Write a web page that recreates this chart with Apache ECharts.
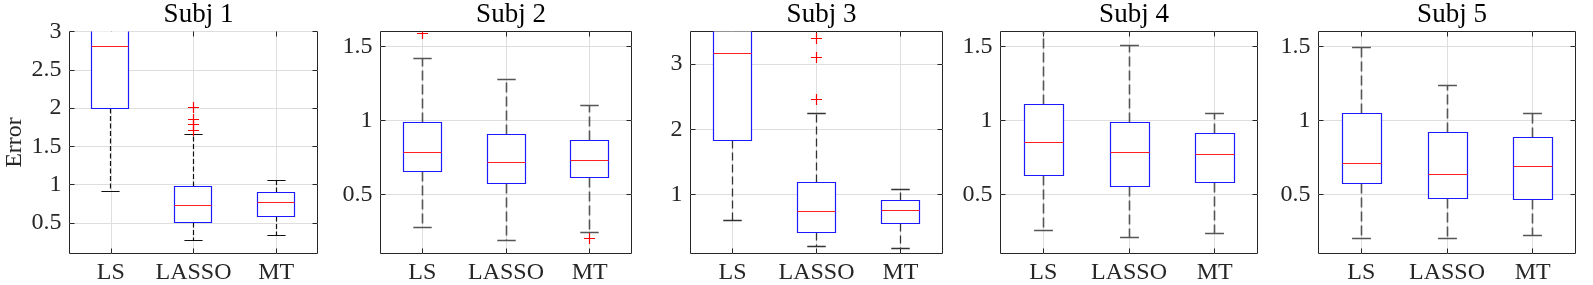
<!DOCTYPE html>
<html>
<head>
<meta charset="utf-8">
<script src="https://cdn.jsdelivr.net/npm/echarts@6/dist/echarts.min.js"></script>
<style>
html,body{margin:0;padding:0;background:#fff;}
#chart{width:1593px;height:285px;}
</style>
</head>
<body>
<div id="chart"></div>
<script>
// ---------- data ----------
const categories = ['LS', 'LASSO', 'MT'];
const subjects = ['Subj 1', 'Subj 2', 'Subj 3', 'Subj 4', 'Subj 5'];
// each row: [lower whisker, Q1, median, Q3, upper whisker]
const subj1Stats = [[0.91, 2.0, 2.81, 3.6, 5.0], [0.265, 0.50, 0.727, 0.98, 1.657], [0.33, 0.588, 0.766, 0.897, 1.05]];
const subj2Stats = [[0.274, 0.656, 0.782, 0.982, 1.418], [0.185, 0.576, 0.715, 0.901, 1.277], [0.242, 0.614, 0.726, 0.866, 1.10]];
const subj3Stats = [[0.612, 1.832, 3.168, 3.9, 5.0], [0.2, 0.414, 0.74, 1.19, 2.25], [0.17, 0.557, 0.76, 0.908, 1.085]];
const subj4Stats = [[0.258, 0.625, 0.852, 1.11, 1.75], [0.205, 0.554, 0.78, 0.985, 1.505], [0.238, 0.583, 0.772, 0.91, 1.047]];
const subj5Stats = [[0.198, 0.574, 0.709, 1.045, 1.49], [0.2, 0.471, 0.634, 0.917, 1.235], [0.223, 0.464, 0.685, 0.884, 1.049]];
// outliers: [category index, value]
const subj1Outliers = [[1, 2.01], [1, 1.852], [1, 1.783], [1, 1.709]];
const subj2Outliers = [[0, 1.587], [2, 0.202]];
const subj3Outliers = [[1, 3.39], [1, 3.10], [1, 2.46]];
const subj4Outliers = [];
const subj5Outliers = [];
const yMin = [0.1, 0.1, 0.1, 0.1, 0.1];
const yMax = [3, 1.6, 3.5, 1.6, 1.6];
const yTicks = [[0.5, 1, 1.5, 2, 2.5, 3], [0.5, 1, 1.5], [1, 2, 3], [0.5, 1, 1.5], [0.5, 1, 1.5]];
const yLabel = 'Error';

// ---------- layout / style ----------
const allStats = [subj1Stats, subj2Stats, subj3Stats, subj4Stats, subj5Stats];
const allOutliers = [subj1Outliers, subj2Outliers, subj3Outliers, subj4Outliers, subj5Outliers];
const gridLeft = [69.5, 380.5, 690.5, 1000.5, 1318.5];
const gridWidth = [248, 251, 252, 257, 257];
const gridTop = 31.5, gridHeight = 222;
const FONT = 'Liberation Serif';
const TXT = '#262626';
const BOX_W = 0.45, CAP_W = 0.22;
const whiskerColor = ['#111', '#555', '#333', '#555', '#555'];
const whiskerWidth = [1.2, 1.6, 1.3, 1.6, 1.6];
const whiskerDash = [[5, 2.5], [10, 4], [8, 4], [10, 4], [10, 4]];
const xTickVals = categories.map((c, i) => i + 1);

function crisp(v) { return Math.round(v - 0.5) + 0.5; }

function makeBoxRenderer(k) {
  return function (params, api) {
    const x = api.value(0);
    const cx = crisp(api.coord([x, 0])[0]);
    const yv = [1, 2, 3, 4, 5].map(i => crisp(api.coord([x, api.value(i)])[1]));
    const halfW = api.size([BOX_W, 0])[0] / 2;
    const capHalf = api.size([CAP_W, 0])[0] / 2;
    const wStyle = { stroke: whiskerColor[k], lineWidth: whiskerWidth[k], lineDash: whiskerDash[k] };
    const cStyle = { stroke: whiskerColor[k], lineWidth: whiskerWidth[k] };
    const bx = crisp(cx - halfW), bw = Math.round(2 * halfW);
    return {
      type: 'group',
      children: [
        { type: 'line', shape: { x1: cx, y1: yv[1], x2: cx, y2: yv[0] }, style: wStyle },
        { type: 'line', shape: { x1: cx, y1: yv[3], x2: cx, y2: yv[4] }, style: wStyle },
        { type: 'line', shape: { x1: cx - capHalf, y1: yv[0], x2: cx + capHalf, y2: yv[0] }, style: cStyle },
        { type: 'line', shape: { x1: cx - capHalf, y1: yv[4], x2: cx + capHalf, y2: yv[4] }, style: cStyle },
        { type: 'rect', shape: { x: bx, y: yv[3], width: bw, height: yv[1] - yv[3] },
          style: { fill: '#fff', stroke: '#1a1aff', lineWidth: 1.2 } },
        { type: 'line', shape: { x1: bx, y1: yv[2], x2: bx + bw, y2: yv[2] },
          style: { stroke: '#ff2020', lineWidth: 1.2 } }
      ]
    };
  };
}

function renderOutlier(params, api) {
  const p = api.coord([api.value(0), api.value(1)]);
  const cx = crisp(p[0]), cy = crisp(p[1]);
  const r = 5.5;
  const st = { stroke: '#ff0000', lineWidth: 1.2 };
  return {
    type: 'group',
    children: [
      { type: 'line', shape: { x1: cx - r, y1: cy, x2: cx + r, y2: cy }, style: st },
      { type: 'line', shape: { x1: cx, y1: cy - r, x2: cx, y2: cy + r }, style: st }
    ]
  };
}

const option = {
  backgroundColor: '#fff',
  animation: false,
  title: [], grid: [], xAxis: [], yAxis: [], series: []
};

subjects.forEach((name, k) => {
  option.title.push({
    text: name, left: gridLeft[k] + gridWidth[k] / 2, top: -4, textAlign: 'center',
    textStyle: { fontFamily: FONT, fontSize: 27, fontWeight: 'normal', color: '#000' }
  });
  option.grid.push({
    left: gridLeft[k], top: gridTop, width: gridWidth[k], height: gridHeight,
    show: true, borderColor: TXT, borderWidth: 1, backgroundColor: 'transparent'
  });
  const ax = 2 * k;
  option.xAxis.push({
    type: 'value', gridIndex: k, min: 0.5, max: 3.5, position: 'bottom',
    axisLine: { show: false },
    axisTick: { show: true, inside: true, length: 5, customValues: xTickVals, lineStyle: { color: TXT } },
    axisLabel: { customValues: xTickVals, formatter: v => categories[Math.round(v) - 1] || '',
      fontFamily: FONT, fontSize: 24, color: TXT, margin: 7 },
    splitLine: { show: true, lineStyle: { color: '#dedede', width: 1 } }
  });
  option.xAxis.push({
    type: 'value', gridIndex: k, min: 0.5, max: 3.5, position: 'top',
    axisLine: { show: false },
    axisTick: { show: true, inside: true, length: 5, customValues: xTickVals, lineStyle: { color: TXT } },
    axisLabel: { show: false, customValues: xTickVals },
    splitLine: { show: false }
  });
  option.yAxis.push({
    type: 'value', gridIndex: k, min: yMin[k], max: yMax[k], position: 'left',
    name: k === 0 ? yLabel : '', nameLocation: 'middle', nameGap: 43,
    nameTextStyle: { fontFamily: FONT, fontSize: 24, color: TXT },
    axisLine: { show: false },
    axisTick: { show: true, inside: true, length: 5, customValues: yTicks[k], lineStyle: { color: TXT } },
    axisLabel: { customValues: yTicks[k], fontFamily: FONT, fontSize: 24, color: TXT, margin: 8 },
    splitLine: { show: true, lineStyle: { color: '#dedede', width: 1 } }
  });
  option.yAxis.push({
    type: 'value', gridIndex: k, min: yMin[k], max: yMax[k], position: 'right',
    axisLine: { show: false },
    axisTick: { show: true, inside: true, length: 5, customValues: yTicks[k], lineStyle: { color: TXT } },
    axisLabel: { show: false, customValues: yTicks[k] },
    splitLine: { show: false }
  });
  option.series.push({
    type: 'custom', xAxisIndex: ax, yAxisIndex: ax, clip: true,
    renderItem: makeBoxRenderer(k),
    encode: { x: 0, y: [1, 2, 3, 4, 5] },
    data: allStats[k].map((s, i) => [i + 1].concat(s)),
    z: 5
  });
  option.series.push({
    type: 'custom', xAxisIndex: ax, yAxisIndex: ax, clip: true,
    renderItem: renderOutlier,
    encode: { x: 0, y: 1 },
    data: allOutliers[k].map(o => [o[0] + 1, o[1]]),
    z: 6
  });
});

const chart = echarts.init(document.getElementById('chart'), null, { renderer: 'canvas' });
chart.setOption(option);
</script>
</body>
</html>
